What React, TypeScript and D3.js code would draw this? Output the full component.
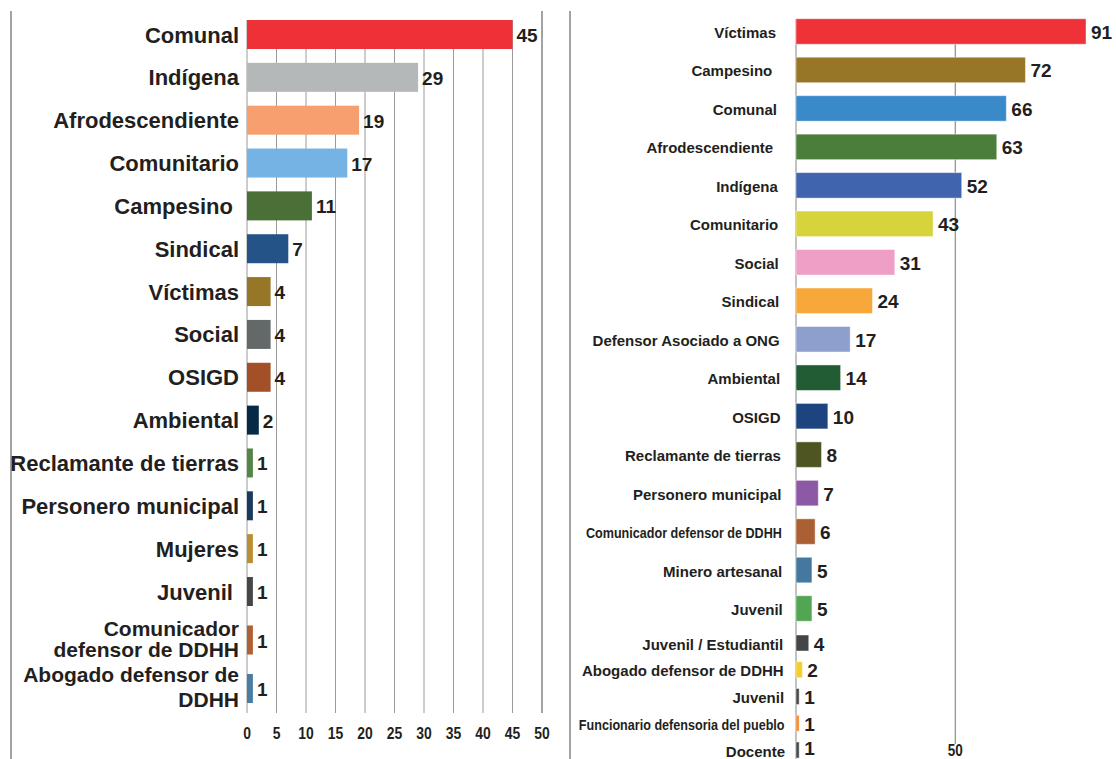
import React from 'react';
import * as d3 from 'd3';

// ---- Left chart data ----
const leftCategories = [
  'Comunal',
  'Indígena',
  'Afrodescendiente',
  'Comunitario',
  'Campesino ',
  'Sindical',
  'Víctimas',
  'Social',
  'OSIGD',
  'Ambiental',
  'Reclamante de tierras',
  'Personero municipal',
  'Mujeres',
  'Juvenil ',
  'Comunicador\ndefensor de DDHH',
  'Abogado defensor de\nDDHH',
];
const leftValues = [45, 29, 19, 17, 11, 7, 4, 4, 4, 2, 1, 1, 1, 1, 1, 1];
const leftColors = [
  '#EE3137', '#B5B8B8', '#F79F6E', '#74B3E3', '#4A7038', '#245487', '#977628', '#636969',
  '#A34F27', '#062A45', '#538644', '#1B3A5F', '#BC8E32', '#474747', '#B06134', '#4B7DA3',
];
const leftTicks = [0, 5, 10, 15, 20, 25, 30, 35, 40, 45, 50];

// ---- Right chart data ----
const rightCategories = [
  'Víctimas',
  'Campesino ',
  'Comunal',
  'Afrodescendiente ',
  'Indígena',
  'Comunitario',
  'Social',
  'Sindical',
  'Defensor Asociado a ONG',
  'Ambiental',
  'OSIGD',
  'Reclamante de tierras',
  'Personero municipal',
  'Comunicador defensor de DDHH',
  'Minero artesanal',
  'Juvenil',
  'Juvenil / Estudiantil',
  'Abogado defensor de DDHH',
  'Juvenil',
  'Funcionario defensoria del pueblo',
  'Docente',
];
const rightValues = [91, 72, 66, 63, 52, 43, 31, 24, 17, 14, 10, 8, 7, 6, 5, 5, 4, 2, 1, 1, 1];
const rightColors = [
  '#EF3237', '#977627', '#3A89C9', '#4A7E3A', '#4064AD', '#D7D33A', '#EF9EC6', '#F8A73A',
  '#8E9ECD', '#215C35', '#1E4480', '#4E5523', '#8D58A4', '#AB6034', '#44789E', '#52A552',
  '#444547', '#F2CF2E', '#48494B', '#F68B2E', '#48494B',
];
const rightTicks = [50];
const rightCondensed = ['Comunicador defensor de DDHH', 'Funcionario defensoria del pueblo'];

const W = 1116;
const H = 759;
const FONT = '"Liberation Sans", Arial, Helvetica, sans-serif';
const TEXT = '#231F20';
const GRID = '#9a9a9a';
const BORDER = '#8c8c8c';

export default function App() {
  // left panel scales: row centres (slightly wider spacing on the two-line rows)
  const xL = d3.scaleLinear().domain([0, 50]).range([247, 542]);
  const rowL = d3.scaleLinear().domain([0, 13, 15]).range([34.5, 591.5, 688.5]);
  const barHL = 29;

  // right panel scales: the last five rows are packed tighter with thinner bars
  const xR = d3.scaleLinear().domain([0, d3.max(rightValues) as number]).range([796, 1086]);
  const rowR = d3.scaleLinear().domain([0, 15, 16, 20]).range([31.5, 608.5, 643, 750]);
  const barHR = d3.scaleLinear().domain([15, 16]).range([25.5, 16]).clamp(true);
  const labelXR = d3.scaleLinear().domain([0, 20]).range([776, 785]);

  const gridTop = 20;
  const gridBottom = 713;

  return (
    <svg
      width={W}
      height={H}
      style={{ position: 'absolute', left: 0, top: 0, background: '#fff' }}
      fontFamily={FONT}
    >
      <rect x={0} y={0} width={W} height={H} fill="#fff" />

      {/* panel frames */}
      <line x1={11} x2={11} y1={11} y2={H} stroke={BORDER} strokeWidth={1.6} />
      <line x1={570} x2={570} y1={11} y2={H} stroke={BORDER} strokeWidth={1.6} />

      {/* ---------- left panel ---------- */}
      <g>
        {leftTicks.map((t) => (
          <line
            key={'lg' + t}
            x1={xL(t)}
            x2={xL(t)}
            y1={t === 50 ? 11 : gridTop}
            y2={gridBottom}
            stroke={t === 50 ? BORDER : GRID}
            strokeWidth={t === 50 ? 1.6 : 1}
          />
        ))}
        {leftTicks.map((t) => (
          <text
            key={'lt' + t}
            transform={`translate(${xL(t)},${733}) scale(0.82,1)`}
            textAnchor="middle"
            dominantBaseline="central"
            fontWeight="bold"
            fontSize={17}
            fill={TEXT}
          >
            {t}
          </text>
        ))}
        {leftCategories.map((c, i) => {
          const cy = rowL(i);
          const lines = c.split('\n');
          const lh = lines.length > 1 ? (i === leftCategories.length - 1 ? 25 : 21) : 0;
          const firstY = lines.length > 1 ? cy - lh / 2 - 2 : cy;
          return (
            <g key={'lb' + i}>
              <rect
                x={xL(0)}
                y={cy - barHL / 2}
                width={xL(leftValues[i]) - xL(0)}
                height={barHL}
                fill={leftColors[i]}
              />
              <text
                x={xL(leftValues[i]) + 4}
                y={cy + 1}
                dominantBaseline="central"
                fontWeight="bold"
                fontSize={19}
                fill={TEXT}
              >
                {leftValues[i]}
              </text>
              <text
                x={239}
                y={firstY}
                textAnchor="end"
                dominantBaseline="central"
                fontWeight="bold"
                fontSize={lines.length > 1 ? 21 : 22}
                fill={TEXT}
                style={{ whiteSpace: 'pre' }}
              >
                {lines.map((l, k) => (
                  <tspan key={k} x={239} dy={k === 0 ? 0 : lh}>
                    {l}
                  </tspan>
                ))}
              </text>
            </g>
          );
        })}
      </g>

      {/* ---------- right panel ---------- */}
      <g>
        <line x1={xR(0)} x2={xR(0)} y1={19} y2={H} stroke={GRID} strokeWidth={1.2} />
        {rightTicks.map((t) => (
          <g key={'rg' + t}>
            <line x1={xR(t)} x2={xR(t)} y1={19} y2={744} stroke={GRID} strokeWidth={1.4} />
            <text
              transform={`translate(${xR(t)},${750}) scale(0.82,1)`}
              textAnchor="middle"
              dominantBaseline="central"
              fontWeight="bold"
              fontSize={16.5}
              fill={TEXT}
            >
              {t}
            </text>
          </g>
        ))}
        {rightCategories.map((c, i) => {
          const cy = rowR(i);
          const bh = barHR(i);
          const condensed = rightCondensed.includes(c);
          const vy = Math.min(cy + 1, H - 11);
          return (
            <g key={'rb' + i}>
              <rect
                x={xR(0)}
                y={cy - bh / 2}
                width={xR(rightValues[i]) - xR(0)}
                height={bh}
                fill={rightColors[i]}
                stroke="#ffffff"
                strokeOpacity={0.45}
                strokeWidth={1}
              />
              <text
                x={xR(rightValues[i]) + 5}
                y={vy}
                dominantBaseline="central"
                fontWeight="bold"
                fontSize={19}
                fill={TEXT}
              >
                {rightValues[i]}
              </text>
              <text
                transform={`translate(${labelXR(i)},${cy + 1}) scale(${condensed ? 0.84 : 1},1)`}
                textAnchor="end"
                dominantBaseline="central"
                fontWeight="bold"
                fontSize={15}
                fill={TEXT}
                style={{ whiteSpace: 'pre' }}
              >
                {c}
              </text>
            </g>
          );
        })}
      </g>
    </svg>
  );
}
